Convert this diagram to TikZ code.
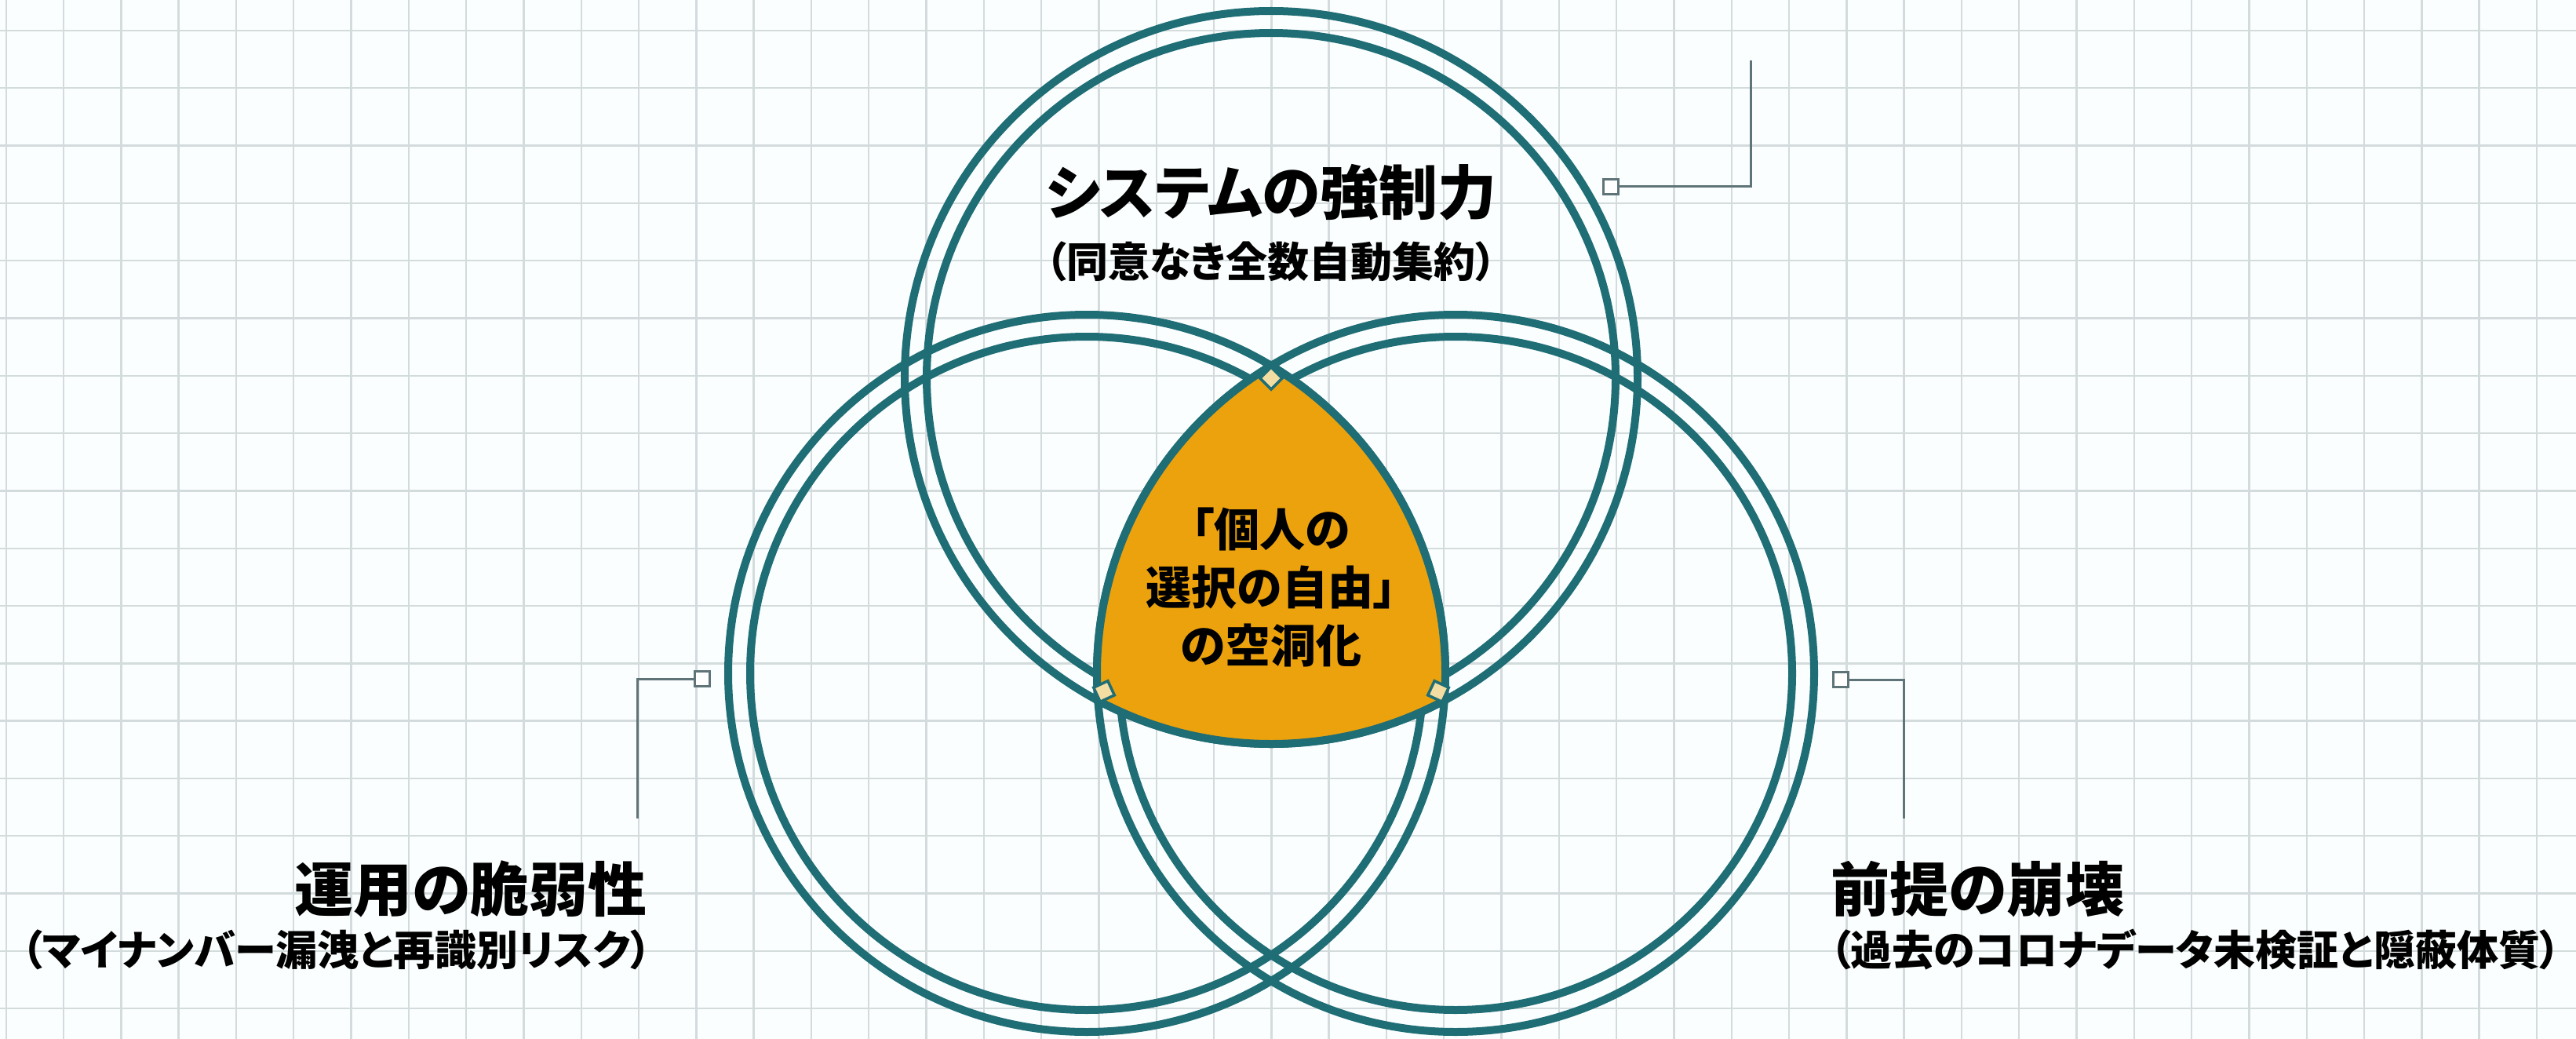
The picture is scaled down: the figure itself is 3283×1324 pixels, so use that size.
\documentclass[tikz,border=0pt]{standalone}
\usepackage{fontspec}
\newfontfamily\jp[RawFeature=+palt]{Noto Sans CJK JP}
\definecolor{ringc}{HTML}{1F6D75}
\definecolor{orng}{HTML}{EBA20D}
\definecolor{gridc}{HTML}{D3DBDC}
\definecolor{bgc}{HTML}{FBFEFE}
\definecolor{connc}{HTML}{5E7479}
\definecolor{markc}{HTML}{F3DDA2}
\begin{document}
\begin{tikzpicture}[x=1pt,y=-1pt,
  ring/.style={draw=ringc, line width=10pt},
  gridline/.style={draw=gridc, line width=2.4pt},
  mk/.style={draw=ringc, fill=markc, line width=3.5pt, minimum size=20pt, inner sep=0pt, rectangle},
  sq/.style={draw=connc, fill=white, line width=2.5pt, minimum size=19pt, inner sep=0pt, rectangle},
  conn/.style={draw=connc, line width=3pt},
  ttl/.style={font=\jp\bfseries\fontsize{75pt}{80pt}\selectfont, text=black, inner sep=0pt},
  sub/.style={font=\jp\bfseries\fontsize{53pt}{60pt}\selectfont, text=black, inner sep=0pt},
  ctr/.style={font=\jp\bfseries\fontsize{58pt}{74pt}\selectfont, align=center, text=black, inner sep=0pt}
]
\useasboundingbox (0,0) rectangle (3283,1324);
\fill[bgc] (0,0) rectangle (3283,1324);
% grid
\foreach \i in {0,...,44} \draw[gridline] ({7.7+73.3*\i},0) -- ({7.7+73.3*\i},1324);
\foreach \j in {0,...,17} \draw[gridline] (0,{39+73.3*\j}) -- (3283,{39+73.3*\j});
% centres
\coordinate (T) at (1620,481);
\coordinate (L) at (1385,858);
\coordinate (R) at (1855,858);
% rings
\draw[ring] (T) circle[radius=467pt];
\draw[ring] (T) circle[radius=439pt];
\draw[ring] (L) circle[radius=457pt];
\draw[ring] (L) circle[radius=429pt];
\draw[ring] (R) circle[radius=457pt];
\draw[ring] (R) circle[radius=429pt];
% orange intersection
\begin{scope}
  \clip (L) circle[radius=457pt];
  \clip (R) circle[radius=457pt];
  \fill[orng] (T) circle[radius=467pt];
\end{scope}
\begin{scope}
  \clip (L) circle[radius=463pt]; \clip (R) circle[radius=463pt];
  \draw[ring] (T) circle[radius=467pt];
\end{scope}
\begin{scope}
  \clip (T) circle[radius=473pt]; \clip (R) circle[radius=463pt];
  \draw[ring] (L) circle[radius=457pt];
\end{scope}
\begin{scope}
  \clip (T) circle[radius=473pt]; \clip (L) circle[radius=463pt];
  \draw[ring] (R) circle[radius=457pt];
\end{scope}
% vertex markers
\node[mk, rotate=45] (mt) at (1620,482) {};
\node[mk, rotate=25] (ml) at (1407,881) {};
\node[mk, rotate=-25] (mr) at (1833,881) {};
% connectors
\node[sq] (s1) at (2053,238) {};
\coordinate (c1a) at (2231,238);
\coordinate (c1b) at (2231,77);
\draw[conn] (s1.east) -- (c1a) -- (c1b);
\node[sq] (s2) at (895,865) {};
\coordinate (c2a) at (812,865);
\coordinate (c2b) at (812,1043);
\draw[conn] (s2.west) -- (c2a) -- (c2b);
\node[sq] (s3) at (2346,866) {};
\coordinate (c3a) at (2426,866);
\coordinate (c3b) at (2426,1043);
\draw[conn] (s3.east) -- (c3a) -- (c3b);
% texts
\node[ttl] (t1) at (1620,245) {システムの強制力};
\node[sub] (t1s) at (1620,333) {（同意なき全数自動集約）};
\node[ctr] (ctext) at (1620,748) {「個人の\\選択の自由」\\の空洞化};
\node[ttl, anchor=east] (l1) at (825,1133) {運用の脆弱性};
\node[sub, anchor=east] (l1s) at (830,1210) {（マイナンバー漏洩と再識別リスク）};
\node[ttl, anchor=west] (r1) at (2333,1133) {前提の崩壊};
\node[sub, anchor=west] (r1s) at (2332,1210) {（過去のコロナデータ未検証と隠蔽体質）};
\end{tikzpicture}
\end{document}
